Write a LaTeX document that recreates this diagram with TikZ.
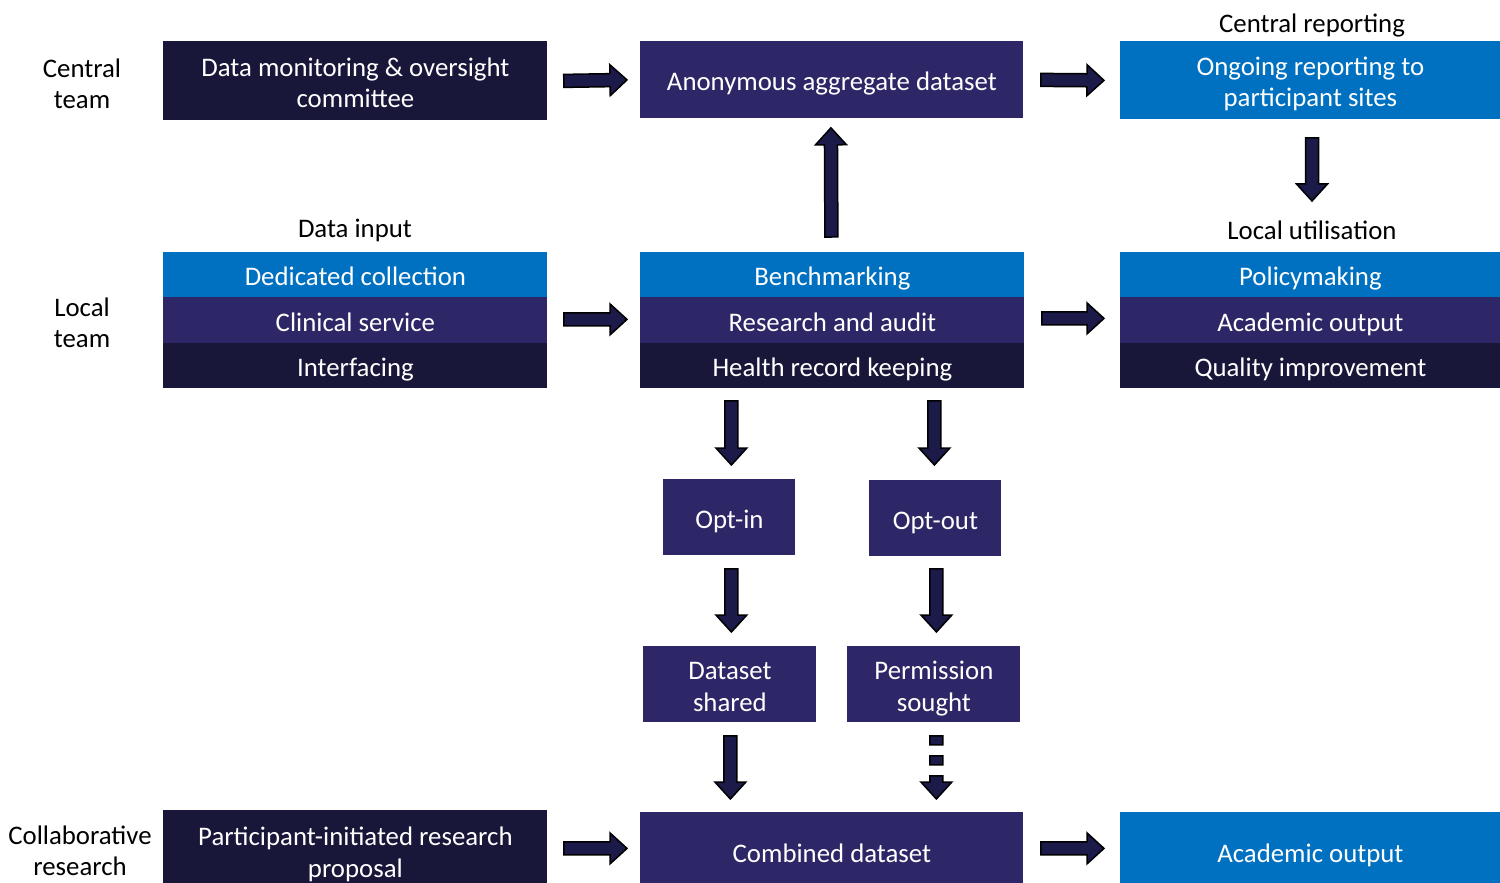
\documentclass[tikz,border=0pt]{standalone}
\usepackage{fontspec}
\setmainfont{Carlito}
\usetikzlibrary{calc}
\definecolor{cblue}{HTML}{0070C0}
\definecolor{cpurple}{HTML}{2E2767}
\definecolor{cnavy}{HTML}{181639}
\definecolor{afill}{HTML}{1B1A48}
\newcommand\fsz{\fontsize{13.4pt}{15.6pt}\selectfont}
\newcommand\tstr{\rule{0pt}{14pt}}
\newcommand\bstr{\rule[-3pt]{0pt}{0pt}}
\tikzset{
  box/.style={anchor=north west, inner sep=0pt, text=white, align=center, font=\fsz},
  lbl/.style={align=center, font=\fsz, inner sep=0pt, text=black},
  blkarr/.style={draw=black, fill=afill, line width=0.75pt, line join=miter}
}
\newcommand\blkarrow[2]{%
  \draw[blkarr] let \p1=(#1), \p2=(#2), \n1={atan2(\y2-\y1,\x2-\x1)}, \n2={veclen(\x2-\x1,\y2-\y1)} in
  {[shift={(\p1)}, rotate=\n1] (0pt,-3.25pt) -- (\n2-8.5pt,-3.25pt) -- (\n2-8.5pt,-7.75pt) -- (\n2,0pt) -- (\n2-8.5pt,7.75pt) -- (\n2-8.5pt,3.25pt) -- (0pt,3.25pt) -- cycle};}
\newcommand\dblkarrow[2]{%
  \draw[blkarr] let \p1=(#1), \p2=(#2), \n1={atan2(\y2-\y1,\x2-\x1)}, \n2={veclen(\x2-\x1,\y2-\y1)} in
  {[shift={(\p1)}, rotate=\n1] (0pt,-3.25pt) rectangle (4.5pt,3.25pt) (10pt,-3.25pt) rectangle (14.5pt,3.25pt)
   (20pt,-3.25pt) -- (\n2-8.5pt,-3.25pt) -- (\n2-8.5pt,-7.75pt) -- (\n2,0pt) -- (\n2-8.5pt,7.75pt) -- (\n2-8.5pt,3.25pt) -- (20pt,3.25pt) -- cycle};}
\begin{document}
\begin{tikzpicture}[x=0.5pt,y=-0.5pt]
\useasboundingbox (0,0) rectangle (1500,883);
\clip (0,0) rectangle (1500,883);
% top row
\node[box,fill=cnavy,minimum width=192pt,minimum height=39.5pt] (dmoc) at (163,41) {\tstr Data monitoring \& oversight\\committee\bstr};
\node[box,fill=cpurple,minimum width=191.5pt,minimum height=38.5pt] (anon) at (640,41) {\tstr Anonymous aggregate dataset\bstr};
\node[box,fill=cblue,minimum width=190pt,minimum height=39pt] (ongoing) at (1120,41) {\tstr Ongoing reporting to\\participant sites\bstr};
% stacks
\node[box,fill=cblue,minimum width=192pt,minimum height=22.5pt] (dc) at (163,252) {\tstr Dedicated collection\bstr};
\node[box,fill=cpurple,minimum width=192pt,minimum height=23pt] (cs) at (163,297) {\tstr Clinical service\bstr};
\node[box,fill=cnavy,minimum width=192pt,minimum height=22.5pt] (intf) at (163,343) {\tstr Interfacing\bstr};
\node[box,fill=cblue,minimum width=192pt,minimum height=22.5pt] (bench) at (640,252) {\tstr Benchmarking\bstr};
\node[box,fill=cpurple,minimum width=192pt,minimum height=23pt] (res) at (640,297) {\tstr Research and audit\bstr};
\node[box,fill=cnavy,minimum width=192pt,minimum height=22.5pt] (health) at (640,343) {\tstr Health record keeping\bstr};
\node[box,fill=cblue,minimum width=190pt,minimum height=22.5pt] (pol) at (1120,252) {\tstr Policymaking\bstr};
\node[box,fill=cpurple,minimum width=190pt,minimum height=23pt] (acad) at (1120,297) {\tstr Academic output\bstr};
\node[box,fill=cnavy,minimum width=190pt,minimum height=22.5pt] (qi) at (1120,343) {\tstr Quality improvement\bstr};
% middle
\node[box,fill=cpurple,minimum width=66pt,minimum height=38pt] (optin) at (663,479) {\tstr Opt-in\bstr};
\node[box,fill=cpurple,minimum width=66pt,minimum height=38pt] (optout) at (869,480) {\tstr Opt-out\bstr};
\node[box,fill=cpurple,minimum width=86.5pt,minimum height=38pt] (dshared) at (643,646) {\tstr Dataset\\shared\bstr};
\node[box,fill=cpurple,minimum width=86.5pt,minimum height=38pt] (perm) at (847,646) {\tstr Permission\\sought\bstr};
% bottom row
\node[box,fill=cnavy,minimum width=192pt,minimum height=40pt] (pirp) at (163,810) {\tstr Participant-initiated research\\proposal\bstr};
\node[box,fill=cpurple,minimum width=191.5pt,minimum height=39pt] (combined) at (640,812) {\tstr Combined dataset\bstr};
\node[box,fill=cblue,minimum width=190pt,minimum height=39pt] (acadout) at (1120,812) {\tstr Academic output\bstr};
% labels
\node[lbl] (ctl) at (82,84) {Central\\team};
\node[lbl] (ltl) at (82,323) {Local\\team};
\node[lbl] (crl) at (80,851) {Collaborative\\research};
\node[lbl] (din) at (355,230) {Data input};
\node[lbl] (crep) at (1312,26) {Central reporting};
\node[lbl] (lutil) at (1312,230) {Local utilisation};
% arrows
\blkarrow{$(dmoc.east)+(16,0)$}{$(anon.west)+(-13,0)$}
\blkarrow{$(anon.east)+(17,0)$}{$(ongoing.west)+(-16,0)$}
\blkarrow{$(cs.east)+(16,-1)$}{$(res.west)+(-13,-1)$}
\blkarrow{$(res.east)+(17,-2)$}{$(acad.west)+(-16,-2)$}
\blkarrow{$(pirp.east)+(16,-2)$}{$(combined.west)+(-13,-3)$}
\blkarrow{$(combined.east)+(17,-3)$}{$(acadout.west)+(-16,-3)$}
\blkarrow{$(bench.north)+(-1,-15)$}{$(anon.south)+(-1,9)$}
\blkarrow{$(ongoing.south -| lutil)+(0,18)$}{$(lutil.center)+(0,-29)$}
\blkarrow{$(optin.north |- health.south)+(2,12)$}{$(optin.north)+(2,-14)$}
\blkarrow{$(optout.north |- health.south)+(-1,12)$}{$(optout.north)+(-1,-15)$}
\blkarrow{$(optin.south)+(2,13)$}{$(dshared.north)+(1.5,-14)$}
\blkarrow{$(optout.south)+(1,12)$}{$(perm.north)+(2.5,-14)$}
\blkarrow{$(dshared.south)+(0.5,13)$}{$(dshared.south |- combined.north)+(0.5,-13)$}
\dblkarrow{$(perm.south)+(2.5,13)$}{$(perm.south |- combined.north)+(2.5,-13)$}
\end{tikzpicture}
\end{document}
